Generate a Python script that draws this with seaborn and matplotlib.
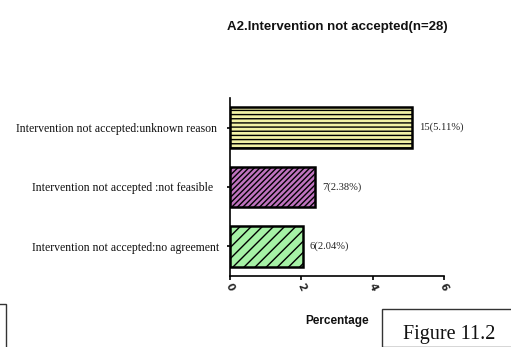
import matplotlib
matplotlib.use("Agg")
import matplotlib.pyplot as plt
import matplotlib.patches as mpatches
import seaborn as sns
import pandas as pd

# Reasons an intervention was not accepted
categories = [
    "Intervention not accepted:unknown reason ",
    "Intervention not accepted :not feasible  ",
    "Intervention not accepted:no agreement",
]
counts = [15, 7, 6]
percentages = [5.11, 2.38, 2.04]
bar_colors = ["#FFFF99", "#CC66CC", "#99FF99"]
bar_hatches = ["----", "//////", "///"]
x_ticks = [0, 2, 4, 6]

sns.set_theme(style="white")
plt.rcParams["hatch.linewidth"] = 1.0

W, H = 511, 347
fig = plt.figure(figsize=(W / 100, H / 100), dpi=100)
ax = fig.add_axes([230 / W, 1 - 276 / H, 214 / W, (276 - 98) / H])

df = pd.DataFrame({"reason": categories, "pct": percentages})
sns.barplot(data=df, x="pct", y="reason", hue="reason", palette=bar_colors,
            orient="h", width=0.69, legend=False, ax=ax,
            edgecolor="black", linewidth=1.8)

for patch, hatch in zip(ax.patches, bar_hatches):
    patch.set_hatch(hatch)
    patch.set_edgecolor("black")

for i, (n, p) in enumerate(zip(counts, percentages)):
    ax.annotate(f"{n}({p:.2f}%)", xy=(p, i), xytext=(5, 0),
                textcoords="offset points", va="center", ha="left",
                fontsize=7.6, family="Liberation Serif", color="#222222")

ax.set_xlim(0, 6)
ax.set_ylim(2.5, -0.5)
ax.set_xticks(x_ticks)
ax.set_xticklabels([str(t) for t in x_ticks], rotation=-65,
                   fontsize=7.5, fontweight="bold", family="DejaVu Sans")
ax.set_xlabel("")
ax.set_ylabel("")
for lab in ax.get_yticklabels():
    lab.set_family("Liberation Serif")
    lab.set_fontsize(8.5)
    lab.set_color("#111111")

ax.tick_params(axis="y", left=True, length=2.5, width=1.2, pad=5, color="black")
ax.tick_params(axis="x", bottom=True, length=3, width=1.2, pad=1, color="black")
for side in ["top", "right"]:
    ax.spines[side].set_visible(False)
for side in ["left", "bottom"]:
    ax.spines[side].set_color("black")
    ax.spines[side].set_linewidth(1.2)

fig.text(337.5 / W, 1 - 30 / H, "A2.Intervention not accepted(n=28)",
         ha="center", va="baseline", fontsize=9.5, fontweight="bold",
         family="Liberation Sans", color="#111111")
fig.text(337.5 / W, 1 - 324 / H, "Percentage", ha="center", va="baseline",
         fontsize=8.5, fontweight="bold", family="Liberation Sans",
         color="#111111")

# Caption box at the lower right and the edge of a box at the lower left
fig.patches.append(mpatches.Rectangle((382 / W, 0), 140 / W, (347 - 309) / H,
                                      transform=fig.transFigure, fill=False,
                                      edgecolor="#333333", linewidth=1.0))
fig.patches.append(mpatches.Rectangle((-20 / W, -5 / H), 26 / W, (347 - 304 + 5) / H,
                                      transform=fig.transFigure, fill=False,
                                      edgecolor="#333333", linewidth=1.0))
fig.text(403 / W, 1 - 339 / H, "Figure 11.2", ha="left", va="baseline",
         fontsize=14.5, family="Liberation Serif", color="#111111")

fig.savefig("out.png", dpi=100)
